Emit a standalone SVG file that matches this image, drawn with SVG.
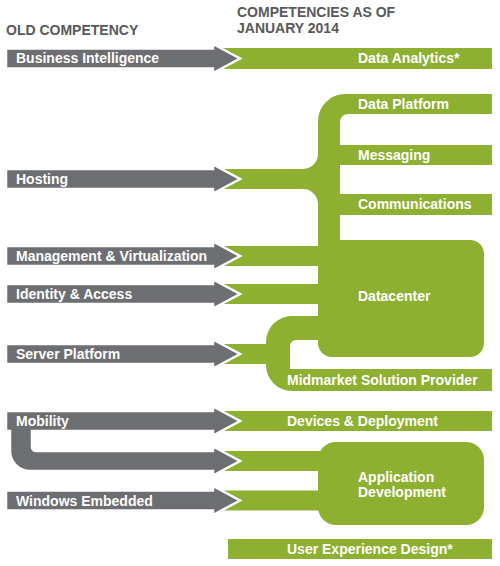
<svg xmlns="http://www.w3.org/2000/svg" width="500" height="566" viewBox="0 0 500 566">
<style>
.g{fill:#8db030}
.a{fill:#6d6e71;stroke:#fff;stroke-width:2.5;stroke-linejoin:miter}
.t{font-family:"Liberation Sans",Arial,sans-serif;font-weight:bold;font-size:14px;fill:#fff}
.h{font-family:"Liberation Sans",Arial,sans-serif;font-weight:bold;font-size:14px;fill:#58595b}
</style>
<rect width="500" height="566" fill="#fff"/>
<g id="headers">
<text class="h" x="6" y="35">OLD COMPETENCY</text>
<text class="h" x="237" y="17">COMPETENCIES AS OF</text>
<text class="h" x="237" y="33">JANUARY 2014</text>
</g>
<g id="connectors">
<path class="g" d="M222,169 H303 A15,15 0 0 0 318,154 V121 A27,27 0 0 1 345,94 H492 V114 H348 A8,8 0 0 0 340,122 V145 H492 V165 H340 V194 H492 V215 H340 V250 H318 V204 A15,15 0 0 0 303,189 H222 Z"/>
<rect class="g" x="222" y="246" width="100" height="20"/>
<rect class="g" x="222" y="284" width="100" height="20"/>
<path class="g" d="M330,316 H292 A26,26 0 0 0 266,342 V365 A26,26 0 0 0 292,391 H492 V369 H290 V346 A6,6 0 0 1 296,340 H330 Z"/>
<rect class="g" x="222" y="344" width="50" height="20"/>
<rect class="g" x="222" y="451" width="110" height="20"/>
<rect class="g" x="222" y="490.5" width="110" height="20"/>
</g>
<g id="new-data-analytics"><rect class="g" x="222" y="48" width="270" height="21"/><text class="t" x="358" y="63">Data Analytics*</text></g>
<g id="new-data-platform"><text class="t" x="358" y="108.5">Data Platform</text></g>
<g id="new-messaging"><text class="t" x="358" y="159.5">Messaging</text></g>
<g id="new-communications"><text class="t" x="358" y="209">Communications</text></g>
<g id="new-datacenter"><rect class="g" x="318" y="240" width="166" height="117" rx="14"/><text class="t" x="358" y="300.5">Datacenter</text></g>
<g id="new-midmarket"><text class="t" x="287" y="384.5">Midmarket Solution Provider</text></g>
<g id="new-devices"><rect class="g" x="222" y="411" width="270" height="20"/><text class="t" x="287" y="426">Devices &amp; Deployment</text></g>
<g id="new-appdev"><rect class="g" x="318" y="442" width="166" height="83" rx="18"/><text class="t" x="358" y="481.5">Application</text><text class="t" x="358" y="497">Development</text></g>
<g id="new-ux"><rect class="g" x="228" y="539" width="264" height="20"/><text class="t" x="287" y="553.5">User Experience Design*</text></g>
<g id="old-bi"><path class="a" d="M6,48.5 H213 V44 L240,58.5 L213,73 V68.5 H6 Z"/><text class="t" x="16" y="63">Business Intelligence</text></g>
<g id="old-hosting"><path class="a" d="M6,169 H213 V164.5 L240,179 L213,193.5 V189 H6 Z"/><text class="t" x="16" y="184">Hosting</text></g>
<g id="old-management"><path class="a" d="M6,246 H213 V241.5 L240,256 L213,270.5 V266 H6 Z"/><text class="t" x="16" y="261">Management &amp; Virtualization</text></g>
<g id="old-identity"><path class="a" d="M6,284 H213 V279.5 L240,294 L213,308.5 V304 H6 Z"/><text class="t" x="16" y="299">Identity &amp; Access</text></g>
<g id="old-server"><path class="a" d="M6,344 H213 V339.5 L240,354 L213,368.5 V364 H6 Z"/><text class="t" x="16" y="359">Server Platform</text></g>
<g id="old-mobility"><path class="a" d="M6,411 H213 V406.5 L240,421 L213,435.5 V431 H32 V447 A4,4 0 0 0 36,451 H213 V446.5 L240,461 L213,475.5 V471 H30 A20,20 0 0 1 10,451 V431 H6 Z"/><text class="t" x="16" y="426">Mobility</text></g>
<g id="old-windows-embedded"><path class="a" d="M6,490.5 H213 V486 L240,500.5 L213,515 V510.5 H6 Z"/><text class="t" x="16" y="505.5">Windows Embedded</text></g>
</svg>
